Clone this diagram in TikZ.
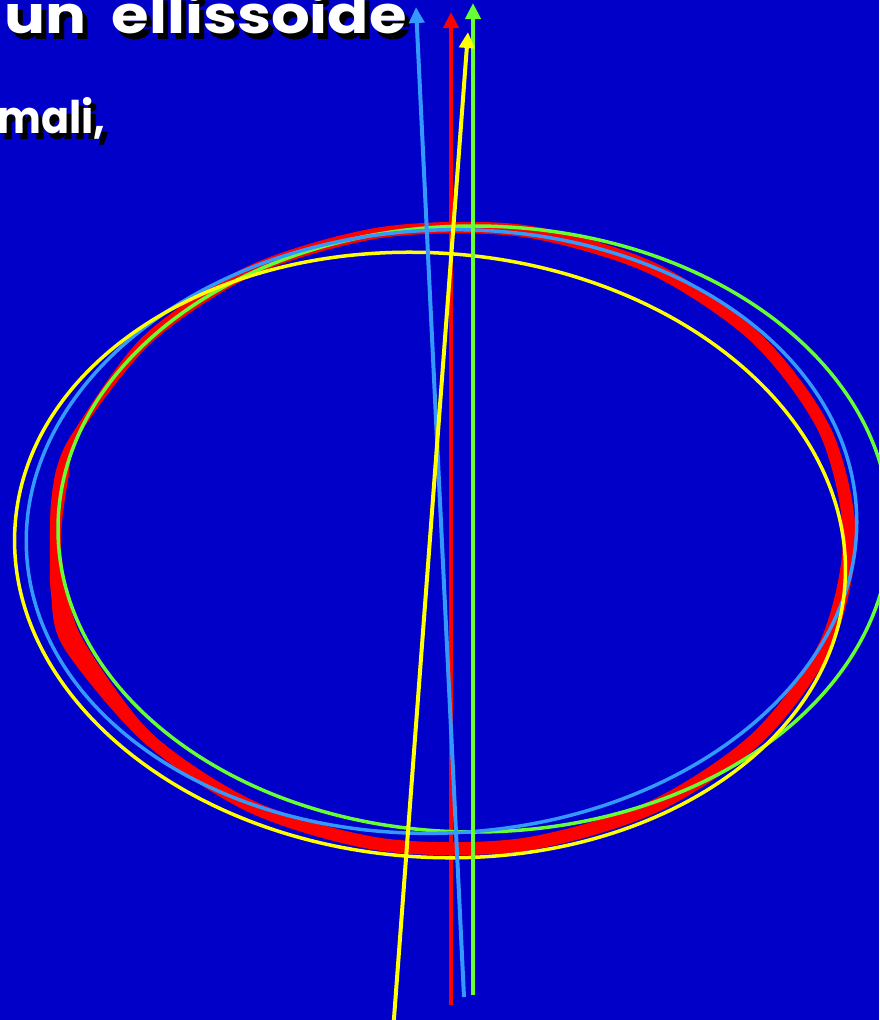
\documentclass[tikz,border=0pt]{standalone}
\usepackage{fontspec}
\newfontfamily\comic{Poppins}
\usetikzlibrary{arrows.meta}
\definecolor{bg}{RGB}{0,0,200}
\definecolor{myred}{RGB}{255,0,0}
\definecolor{mygreen}{RGB}{102,255,51}
\definecolor{myblue}{RGB}{51,153,255}
\definecolor{myyellow}{RGB}{255,255,0}
\newcommand{\titletext}{\scalebox{1.17}[1]{un\hspace{22pt}ellissoide}}
\newcommand{\subtext}{\scalebox{0.92}[1]{mali,}}
\begin{document}
\begin{tikzpicture}[x=1pt,y=-1pt,
  ring/.style={line width=3.5pt},
  axisline/.style={line width=4pt,-{Triangle[length=16pt,width=15pt]}},
  title/.style={anchor=base west,inner sep=0pt,font=\comic\bfseries\fontsize{52}{52}\selectfont},
  sub/.style={anchor=base west,inner sep=0pt,font=\comic\bfseries\fontsize{45}{45}\selectfont}]
\useasboundingbox (0,0) rectangle (879,1020);
\fill[bg] (0,0) rectangle (879,1020);
\begin{scope}
\clip (0,0) rectangle (879,1020);
% text with shadow
\node[title,text=black] (t1s) at (9,39) {\titletext};
\node[title,text=white] (t1) at (4,33) {\titletext};
\node[sub,text=black] (t2s) at (2,139) {\subtext};
\node[sub,text=white] (t2) at (-3,133) {\subtext};
% red irregular band
\fill[myred,even odd rule]
  plot[smooth cycle] coordinates {(856,539) (831.8,647.4) (761.7,742.8) (654.5,813.5) (523.1,851.2) (382.9,851.2) (251.5,813.5) (144.3,742.8) (64,648) (51,594) (50,539) (51,503) (57,467) (74.2,430.6) (144.3,335.2) (251.5,264.5) (382.9,226.8) (523.1,224.8) (654.5,262.5) (761.7,335.2) (831.8,430.6)}
  plot[smooth cycle] coordinates {(843,538) (819.5,642.3) (751.5,734.1) (647.5,802.1) (520,838.4) (384,838.4) (256.5,802.1) (152.5,734.1) (84.5,642.3) (67,591) (61,538) (68,480) (80,434) (152.5,341.9) (256.5,273.9) (384,237.6) (520,236.6) (647.5,272.9) (751.5,341.9) (819.5,433.7)};
% red axis
\coordinate (rb) at (451,1005);
\coordinate (rt) at (451,12);
\draw[axisline,myred] (rb) -- (rt);
% ellipses
\draw[ring,mygreen] (474,529) ellipse[x radius=416,y radius=303];
\draw[ring,myblue,rotate around={2.8:(441.5,531.5)}] (441.5,531.5) ellipse[x radius=415.5,y radius=301.5];
\draw[ring,myyellow,rotate around={-4.3:(430,555)}] (430,555) ellipse[x radius=416,y radius=302];
% axes
\coordinate (gb) at (473,995);
\coordinate (gt) at (473,3);
\draw[axisline,mygreen] (gb) -- (gt);
\coordinate (bb) at (464,997);
\coordinate (bt) at (416,7);
\draw[axisline,myblue] (bb) -- (bt);
\coordinate (yb) at (393.5,1025);
\coordinate (yt) at (468,32);
\draw[axisline,myyellow] (yb) -- (yt);
\end{scope}
\end{tikzpicture}
\end{document}
